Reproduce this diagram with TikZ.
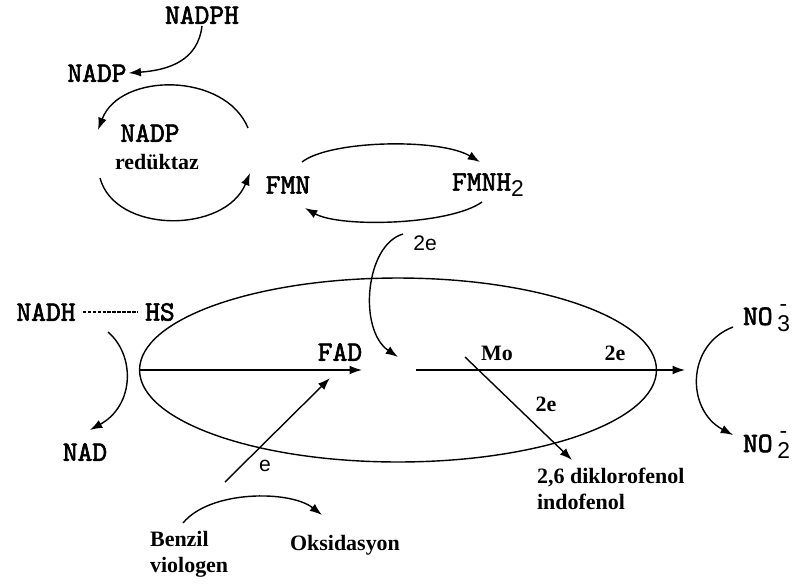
\documentclass[tikz,border=0pt]{standalone}
\usepackage{fontspec}
\setmainfont{Liberation Serif}
\setsansfont{Liberation Sans}
\newfontfamily\chemfont{lmmono10-regular}[Extension=.otf, AutoFakeBold=2.2]
\usetikzlibrary{arrows.meta,shapes.geometric}
\newcommand{\ionsub}[1]{\,\raisebox{-0.55ex}{\sffamily\mdseries\fontsize{13}{13}\selectfont\makebox[0pt][l]{\raisebox{1.7ex}{\hspace{0.1em}-}}#1}}

\begin{document}
\begin{tikzpicture}[x=0.02cm, y=-0.02cm]
  \tikzset{ChemStyle/.style = {
  font = \chemfont\bfseries\fontsize{16}{18}\selectfont,
  inner sep = 1pt},
  TextStyle/.style = {
  font = \bfseries\fontsize{12.5}{15}\selectfont,
  inner sep = 1pt},
  ElecStyle/.style = {
  font = \sffamily\fontsize{12}{14}\selectfont,
  inner sep = 1pt},
  FlowStyle/.style = {
  line width = 0.8pt,
  -{Latex[length=7pt,width=5pt]}}}
  \useasboundingbox (0,0) rectangle (794,585);
  \node[ChemStyle] (nadph) at (202,15) {NADPH};
  \node[ChemStyle] (nadp) at (97,73) {NADP};
  \node[ChemStyle] (nadpred) at (150,133) {NADP};
  \node[TextStyle] (reduktaz) at (157,162) {redüktaz};
  \node[ChemStyle] (fmn) at (288,185) {FMN};
  \node[ChemStyle, anchor=west] (fmnh) at (450,185) {FMNH\raisebox{-0.5ex}{\sffamily\mdseries\fontsize{13}{13}\selectfont 2}};
  \node[ElecStyle] (fmn2e) at (425,243) {2e};
  \node[ChemStyle] (nadh) at (46,312) {NADH};
  \node[ChemStyle] (hs) at (160,312) {HS};
  \node[ChemStyle] (nad) at (85,452) {NAD};
  \node[ChemStyle] (fad) at (340,352) {FAD};
  \node[TextStyle] (mo) at (497,353) {Mo};
  \node[TextStyle] (mo2e) at (615,353) {2e};
  \node[TextStyle] (dk2e) at (546,404) {2e};
  \node[ElecStyle] (bve) at (265,466) {e};
  \node[ChemStyle, anchor=west] (no3) at (741,318) {NO\ionsub{3}};
  \node[ChemStyle, anchor=west] (no2) at (741,445) {NO\ionsub{2}};
  \node[TextStyle, anchor=north west, align=left] (dikloro) at (535,466) {2,6 diklorofenol\\indofenol};
  \node[TextStyle, anchor=west, align=left] (benzil) at (148,554) {Benzil\\viologen};
  \node[TextStyle] (oks) at (345,545) {Oksidasyon};
  \node (enzim) [draw, ellipse, line width=0.8pt, inner sep=0pt,
    minimum width=10.34cm, minimum height=3.68cm] at (398,370) {};
  \coordinate (cyc1) at (248,128);
  \coordinate (cyc2) at (98,130);
  \coordinate (cyc3) at (100,178);
  \coordinate (cyc4) at (250,173);
  \coordinate (fmnup) at (302,162);
  \coordinate (fmnhup) at (480,162);
  \coordinate (fmnhdown) at (482,202);
  \coordinate (fmndown) at (305,208);
  \coordinate (fmnhout) at (403,234);
  \coordinate (fadtop) at (398,357);
  \coordinate (fadin) at (362,370);
  \coordinate (moin) at (416,370);
  \coordinate (noin) at (685,370);
  \coordinate (mostart) at (465,357);
  \coordinate (dkin) at (572,460);
  \coordinate (bvout) at (225,482);
  \coordinate (fadlow) at (330,378);
  \coordinate (nadhout) at (108,332);
  \coordinate (nadin) at (90,430);
  \coordinate (no3out) at (733,327);
  \coordinate (no2in) at (733,435);
  \coordinate (bvstart) at (183,523);
  \coordinate (oksin) at (322,515);
  \draw[FlowStyle] (nadph.south) .. controls (198,60) and (170,70) .. (nadp.east);
  \draw[FlowStyle] (cyc1) .. controls (225,72) and (120,72) .. (cyc2);
  \draw[FlowStyle] (cyc3) .. controls (115,234) and (225,234) .. (cyc4);
  \draw[FlowStyle] (fmnup) .. controls (330,140) and (440,138) .. (fmnhup);
  \draw[FlowStyle] (fmnhdown) .. controls (450,225) and (340,228) .. (fmndown);
  \draw[FlowStyle] (fmnhout) .. controls (365,245) and (358,330) .. (fadtop);
  \draw[dash pattern=on 2pt off 0.8pt, line width=0.6pt, shorten <=3pt, shorten >=3pt] (nadh) -- (hs);
  \draw[FlowStyle] (nadhout) .. controls (135,355) and (135,405) .. (nadin);
  \draw[FlowStyle] (enzim.west) -- (fadin);
  \draw[FlowStyle] (moin) -- (noin);
  \draw[FlowStyle] (mostart) -- (dkin);
  \draw[FlowStyle] (bvout) -- (fadlow);
  \draw[FlowStyle] (no3out) .. controls (686,345) and (686,410) .. (no2in);
  \draw[FlowStyle] (bvstart) .. controls (210,490) and (290,490) .. (oksin);
\end{tikzpicture}
\end{document}
